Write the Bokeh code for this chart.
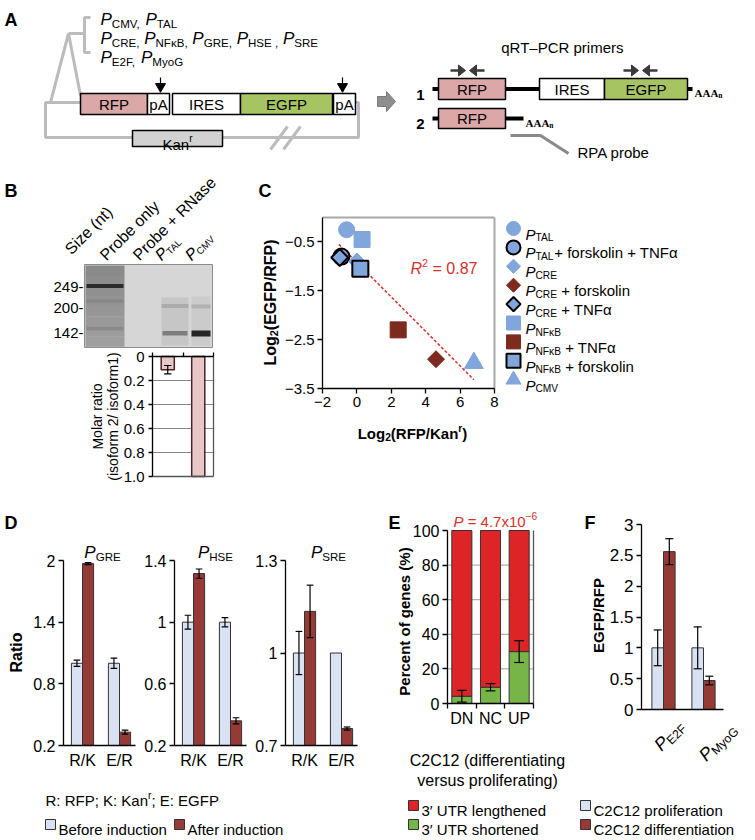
import json
import math
from collections import defaultdict

from bokeh.core.properties import value
from bokeh.embed import file_html
from bokeh.models import ColumnDataSource, CustomJSTickFormatter, FixedTicker, LinearAxis, Range1d
from bokeh.plotting import figure
from bokeh.resources import INLINE

# ============================================================ DATA
# A: reporter construct
a_promoter_lines = [["CMV,", "TAL"], ["CRE,", "NFκB,", "GRE,", "HSE ,", "SRE"], ["E2F,", "MyoG"]]
a_elements = ["RFP", "pA", "IRES", "EGFP", "pA"]
a_isoforms = ["1", "2"]

# B: RNase protection assay and molar ratio (isoform 2 / isoform 1)
b_lane_labels = ["Size (nt)", "Probe only", "Probe + RNase"]
b_lane_promoters = ["TAL", "CMV"]
b_size_labels = ["249-", "200-", "142-"]
b_ratio_promoters = ["TAL", "CMV"]
b_ratio = [0.11, 1.0]
b_ratio_err = [0.035, 0.0]
b_ratio_ticks = [0.0, 0.2, 0.4, 0.6, 0.8, 1.0]
b_ratio_ticklabels = ["0", "0.2", "0.4", "0.6", "0.8", "1.0"]

# C: log2(EGFP/RFP) versus log2(RFP/Kan)
c_promoter = ["TAL", "TAL", "CRE", "CRE", "CRE", "NFκB", "NFκB", "NFκB", "CMV"]
c_treatment = ["", "+ forskolin + TNFα", "", " + forskolin", " + TNFα", "", " + TNFα", " + forskolin", ""]
c_x = [-0.6, -0.9, 0.0, 4.6, -1.0, 0.3, 2.4, 0.2, 6.8]
c_y = [-0.25, -0.8, -0.9, -2.9, -0.82, -0.45, -2.3, -1.05, -2.98]
c_fit_x = [-1.05, 6.8]
c_fit_y = [-0.55, -3.32]
c_r2 = " = 0.87"
c_xticks = [-2, 0, 2, 4, 6, 8]
c_xticklabels = ["−2", "0", "2", "4", "6", "8"]
c_yticks = [-3.5, -2.5, -1.5, -0.5]
c_yticklabels = ["−3.5", "−2.5", "−1.5", "−0.5"]

# D: ratios before / after induction
d_groups = ["R/K", "E/R"]
d_promoters = ["GRE", "HSE", "SRE"]
d_gre_before = [1.0, 1.0]
d_gre_before_err = [0.03, 0.05]
d_gre_after = [1.97, 0.33]
d_gre_after_err = [0.01, 0.02]
d_hse_before = [1.0, 1.0]
d_hse_before_err = [0.045, 0.03]
d_hse_after = [1.315, 0.36]
d_hse_after_err = [0.03, 0.02]
d_sre_before = [1.0, 1.0]
d_sre_before_err = [0.07, 0.0]
d_sre_after = [1.135, 0.755]
d_sre_after_err = [0.085, 0.005]
d_gre_ticks = [0.2, 0.8, 1.4, 2.0]
d_gre_ticklabels = ["0.2", "0.8", "1.4", "2"]
d_hse_ticks = [0.2, 0.6, 1.0, 1.4]
d_hse_ticklabels = ["0.2", "0.6", "1", "1.4"]
d_sre_ticks = [0.7, 1.0, 1.3]
d_sre_ticklabels = ["0.7", "1", "1.3"]

# E: percent of genes with 3'UTR shortened / lengthened
e_cats = ["DN", "NC", "UP"]
e_shortened = [4.2, 9.4, 30.0]
e_shortened_err = [3.4, 2.1, 6.3]
e_lengthened = [95.8, 90.6, 70.0]
e_ticks = [0, 20, 40, 60, 80, 100]
e_ticklabels = ["0", "20", "40", "60", "80", "100"]
e_pvalue = ["4.7x10", "−6"]

# F: EGFP/RFP in C2C12
f_promoters = ["E2F", "MyoG"]
f_prolif = [1.0, 1.0]
f_prolif_err = [0.29, 0.34]
f_diff = [2.56, 0.47]
f_diff_err = [0.21, 0.07]
f_ticks = [0, 0.5, 1.0, 1.5, 2.0, 2.5, 3.0]
f_ticklabels = ["0", "0.5", "1", "1.5", "2", "2.5", "3"]

# ============================================================ STYLE
SANS = "Liberation Sans"
SERIF = "Liberation Serif"
GRAYLINE = "#bcbcbc"
PINK = "#dba7a7"
GREEN = "#a6c462"
RATIO_PINK = "#e8c7c7"
LBLUE = "#80a6dc"
DRED = "#7d2a1f"
BEFORE = "#d9e2f3"
AFTER = "#953a35"
E_RED = "#dd2527"
E_GREEN = "#76b548"
TXT_RED = "#d7312c"
EDGE = "#333333"

REG = {' ': 278, '!': 278, '(': 333, ')': 333, '+': 584, ',': 278, '-': 333, '.': 278, '/': 278,
       ':': 278, ';': 278, '=': 584, '%': 889, '–': 556, '−': 584, 'α': 578, 'κ': 500, '′': 190}
for ch in "0123456789":
    REG[ch] = 556
REG.update(dict(zip("ABCDEFGHIJKLMNOPQRSTUVWXYZ",
                    [667, 667, 722, 722, 667, 611, 778, 722, 278, 500, 667, 556, 833, 722, 778, 667, 778, 722,
                     667, 611, 722, 667, 944, 667, 667, 611])))
REG.update(dict(zip("abcdefghijklmnopqrstuvwxyz",
                    [556, 556, 500, 556, 556, 278, 556, 556, 222, 222, 500, 222, 833, 556, 556, 556, 556, 333,
                     500, 278, 556, 500, 722, 500, 500, 500])))
BOLD = {'b': 611, 'd': 611, 'f': 333, 'g': 611, 'h': 611, 'l': 278, 'n': 611, 'o': 611, 'p': 611, 'r': 389,
        't': 333, 'u': 611, 'i': 278, 'm': 889, 'A': 722, 'B': 722, 'K': 722, 'L': 611, 'c': 556, 's': 556}
SERIF_B = {'A': 722, 'n': 556}

PIECES = []


def text_width(s, size, bold=False, font=SANS):
    tot = 0
    for ch in s:
        w = None
        if font == SERIF:
            w = SERIF_B.get(ch)
        if w is None and bold:
            w = BOLD.get(ch)
        if w is None:
            w = REG.get(ch, 556)
        tot += w
    return tot * size / 1000.0


def rich(x, y, parts, size, color="black", angle=0.0, align="left", baseline="alphabetic",
         bold=False, font=SANS, sub_scale=0.68):
    items = []
    for t, kind in parts:
        s = size * sub_scale if kind in ("sub", "sup") else size
        items.append((t, kind, s, text_width(t, s, bold, font)))
    total = sum(it[3] for it in items)
    adv = {"left": 0.0, "center": -total / 2.0, "right": -total}[align]
    ca, sa = math.cos(angle), math.sin(angle)
    for t, kind, s, w in items:
        dn = 0.0
        if kind == "sub":
            dn = 0.24 * size
        elif kind == "sup":
            dn = -0.36 * size
        stripped = t.lstrip(" ")
        lead = text_width(t[:len(t) - len(stripped)], s, bold, font)
        a = adv + lead
        px = x + a * ca + dn * sa
        py = y - a * sa + dn * ca
        style = "italic" if kind == "i" else "normal"
        if bold:
            style = "bold" if style == "normal" else "bold italic"
        if stripped.strip():
            PIECES.append((px, py, stripped, font, round(s, 2), style, color, round(angle, 5), baseline))
        adv += w


# ============================================================ CANVAS
PX0, PX1, PY0, PY1 = 0, 754, 0, 839
p = figure(width=PX1 - PX0, height=PY1 - PY0, x_range=Range1d(PX0, PX1), y_range=Range1d(PY1, PY0),
           x_axis_type=None, y_axis_type=None, toolbar_location=None, output_backend="svg",
           min_border=0, outline_line_color=None, background_fill_color="white", border_fill_color="white")


def xr(v0, p0, v1, p1):
    k = (v1 - v0) / (p1 - p0)
    return Range1d(start=v0 + (PX0 - p0) * k, end=v0 + (PX1 - p0) * k)


def yr(v0, p0, v1, p1):
    k = (v1 - v0) / (p1 - p0)
    return Range1d(start=v0 + (PY1 - p0) * k, end=v0 + (PY0 - p0) * k)


FRAMES = {
    "B": ((0, 152, 2, 213), (0, 356, 1, 476)),
    "C": ((-2, 322, 8, 494), (0, 217, -3.5, 388)),
    "GRE": ((1, 82, 2, 119), (0.2, 745, 2.0, 560)),
    "HSE": ((1, 193, 2, 230), (0.2, 745, 1.4, 560)),
    "SRE": ((1, 304, 2, 341), (0.7, 745, 1.3, 560)),
    "E": ((0, 447, 3, 533), (0, 703, 100, 530)),
    "F": ((1, 663, 2, 703), (0, 709, 3, 524)),
}
p.extra_x_ranges = {k + "x": xr(*v[0]) for k, v in FRAMES.items()}
p.extra_y_ranges = {k + "y": yr(*v[1]) for k, v in FRAMES.items()}


def xval(name, px):
    v0, p0, v1, p1 = FRAMES[name][0]
    return v0 + (px - p0) * (v1 - v0) / (p1 - p0)


def jkey(v):
    v = float(v)
    return str(int(v)) if v.is_integer() else repr(v)


def fmt(ticks, labels):
    m = json.dumps({jkey(t): l for t, l in zip(ticks, labels)})
    return CustomJSTickFormatter(code="const m = %s; const k = String(tick); return (k in m) ? m[k] : '';" % m)


def axis(side, name, loc, bounds, ticks, labels, size="16px", tick_out=5, standoff=3,
         show_line=True, show_ticks=True):
    ax = LinearAxis(x_range_name=name + "x", y_range_name=name + "y", fixed_location=loc, bounds=bounds,
                    ticker=FixedTicker(ticks=ticks, minor_ticks=[]), formatter=fmt(ticks, labels),
                    major_tick_out=tick_out, major_tick_in=0, minor_tick_out=0, minor_tick_in=0,
                    major_label_standoff=standoff, major_label_text_font=SANS,
                    major_label_text_font_size=size, major_label_text_color="black",
                    axis_line_color="black" if show_line else None, axis_line_width=1.3,
                    major_tick_line_color="black" if show_ticks else None, major_tick_line_width=1.3,
                    minor_tick_line_color=None)
    p.add_layout(ax, side)
    return ax


def errbars(name, xs, ys, es, cap, width=1.2, color="black"):
    x0, y0, x1, y1 = [], [], [], []
    for x, y, e in zip(xs, ys, es):
        if e <= 0:
            continue
        x0 += [x, x - cap, x - cap]
        y0 += [y - e, y - e, y + e]
        x1 += [x, x + cap, x + cap]
        y1 += [y + e, y - e, y + e]
    p.segment(x0=x0, y0=y0, x1=x1, y1=y1, x_range_name=name + "x", y_range_name=name + "y",
              line_color=color, line_width=width)


# ============================================================ PANEL A (diagram)
rich(4, 19, [("A", "n")], 18, bold=True)
p.multi_line(xs=[[90, 84, 84, 90], [84, 68], [68, 50], [68, 80], [80, 45, 45, 132], [222, 358, 358, 355]],
             ys=[[17, 17, 52, 52], [33, 33], [33, 102], [33, 95], [102, 102, 137, 137], [137, 137, 102, 102]],
             line_color=GRAYLINE, line_width=3)
p.multi_line(xs=[[270, 287], [283, 300]], ys=[[149, 126], [149, 126]], line_color=GRAYLINE, line_width=3)
box_l = [80, 147, 172, 240, 333]
box_r = [147, 169, 240, 332, 355]
p.quad(left=box_l, right=box_r, top=[93] * 5, bottom=[114] * 5,
       fill_color=[PINK, "white", "white", GREEN, "white"], line_color="black", line_width=1.5)
for l, r, lab in zip(box_l, box_r, a_elements):
    rich((l + r) / 2, 104, [(lab, "n")], 15, align="center", baseline="middle")
p.quad(left=[132], right=[222], top=[130], bottom=[146], fill_color="#d2d2d2", line_color="black", line_width=1.5)
rich(177, 143.5, [("Kan", "n"), ("r", "sup")], 15, align="center")
p.segment(x0=[160, 342], y0=[77, 77], x1=[160, 342], y1=[83, 83], line_color="black", line_width=1.2)
p.scatter(x=[160, 342], y=[86, 86], marker="inverted_triangle", size=10, color="black")
for i, line in enumerate(a_promoter_lines):
    parts = []
    for j, name in enumerate(line):
        if j > 0:
            parts.append((" ", "n"))
        parts += [("P", "i"), (name, "sub")]
    rich(100, 19 + 19 * i, parts, 17)
p.patch(x=[377, 386, 386, 395, 386, 386, 377], y=[96, 96, 91, 101, 111, 106, 106],
        fill_color="#8e8e8e", line_color="#7a7a7a")
# transcripts
rich(562, 47, [("qRT–PCR primers", "n")], 15, align="center")
rich(420, 94, [(a_isoforms[0], "n")], 15, bold=True, align="center")
rich(420, 123, [(a_isoforms[1], "n")], 15, bold=True, align="center")
p.segment(x0=[432, 505, 687, 432, 505], y0=[88.5, 88.5, 88.5, 118, 118],
          x1=[438, 539, 692, 438, 523], y1=[88.5, 88.5, 88.5, 118, 118], line_color="black", line_width=4)
p.quad(left=[438, 539, 604, 438], right=[505, 604, 687, 505], top=[78, 78, 78, 108], bottom=[99, 99, 99, 128],
       fill_color=[PINK, "white", GREEN, PINK], line_color="black", line_width=1.5)
for (l, r, yc, lab) in [(438, 505, 88.5, "RFP"), (539, 604, 88.5, "IRES"), (604, 687, 88.5, "EGFP"),
                        (438, 505, 118, "RFP")]:
    rich((l + r) / 2, yc, [(lab, "n")], 15, align="center", baseline="middle")
rich(694, 92, [("AAA", "n"), ("n", "sub")], 11, bold=True, font=SERIF)
rich(525, 122, [("AAA", "n"), ("n", "sub")], 11, bold=True, font=SERIF)
shaft_x, shaft_y, head_x, head_y = [], [], [], []
for a0, a1 in [(450, 465), (484, 469), (623, 638), (657, 642)]:
    d = 1 if a1 > a0 else -1
    shaft_x.append([a0, a1 - 4 * d])
    shaft_y.append([70, 70])
    head_x.append([a1 - 7 * d, a1, a1 - 7 * d])
    head_y.append([64.5, 70, 75.5])
p.multi_line(xs=shaft_x, ys=shaft_y, line_color="#3a3a3a", line_width=2.6)
p.patches(xs=head_x, ys=head_y, fill_color="#3a3a3a", line_color="#3a3a3a", line_width=1)
p.line(x=[510, 540, 568], y=[135, 135, 153], line_color="#8a8a8a", line_width=3)
rich(577, 152, [("RPA probe", "n")], 15)

# ============================================================ PANEL B
rich(4, 190, [("B", "n")], 18, bold=True)
p.quad(left=[84], right=[212], top=[264], bottom=[347], fill_color="#d6d6d6", line_color="#8c8c8c", line_width=1)
n_sl = 8
for i in range(n_sl):
    t = 265 + i * 81 / n_sl
    c = int(0x8a + i * 3)
    p.quad(left=[85], right=[124], top=[t], bottom=[t + 81 / n_sl + 0.3],
           fill_color="#%02x%02x%02x" % (c, c, c), line_color=None)
p.quad(left=[86, 86, 86, 161, 161, 162, 191, 191, 191],
       right=[123, 123, 123, 188, 188, 187, 210, 210, 210],
       top=[283.5, 299, 326, 297, 303.5, 330.5, 296, 304, 330],
       bottom=[287.5, 302, 330, 345, 307.5, 335, 345, 308, 336],
       fill_color=["#2b2b2b", "#858585", "#8a8a8a", "#c6c6c6", "#acacac", "#7d7d7d", "#cbcbcb", "#b2b2b2",
                   "#262626"], line_color=None)
for lab, yc in zip(b_size_labels, [286, 307, 332]):
    rich(83, yc, [(lab, "n")], 15, align="right", baseline="middle")
for lab, (x0, y0) in zip(b_lane_labels, [(67, 251), (102, 257), (135, 257)]):
    rich(x0, y0, [(lab, "n")], 16, angle=math.pi / 4)
for prom, (x0, y0) in zip(b_lane_promoters, [(157, 257), (187, 257)]):
    rich(x0, y0, [("P", "i"), (prom, "sub")], 16, angle=math.pi / 4, sub_scale=0.6)
# molar ratio chart
bx = [0.5, 1.5]
p.segment(x0=[0, 0, 0, 0], y0=[0.2, 0.4, 0.6, 0.8], x1=[2, 2, 2, 2], y1=[0.2, 0.4, 0.6, 0.8],
          x_range_name="Bx", y_range_name="By", line_color="#8a8a8a", line_width=1)
p.vbar(x=bx, top=b_ratio, bottom=0, width=0.43, x_range_name="Bx", y_range_name="By",
       fill_color=RATIO_PINK, line_color="#4a2424", line_width=1.5)
errbars("B", bx, b_ratio, b_ratio_err, 0.12)
p.segment(x0=[0, 2], y0=[1, 0], x1=[2, 2], y1=[1, 1], x_range_name="Bx", y_range_name="By",
          line_color="#555555", line_width=1.3)
axis("left", "B", 0, (0, 1), b_ratio_ticks, b_ratio_ticklabels, size="15px", tick_out=4, standoff=4)
axis("above", "B", 0, (0, 2), [0, 1, 2], ["", "", ""], tick_out=4)
rich(97, 416, [("Molar ratio", "n")], 14, angle=math.pi / 2, align="center")
rich(113, 416, [("(isoform 2/ isoform1)", "n")], 14, angle=math.pi / 2, align="center")

# ============================================================ PANEL C
rich(258, 190, [("C", "n")], 18, bold=True)
p.segment(x0=[-2, 8], y0=[0, 0], x1=[8, 8], y1=[0, -3.5], x_range_name="Cx", y_range_name="Cy",
          line_color="#a8a8a8", line_width=2)
p.line(x=c_fit_x, y=c_fit_y, x_range_name="Cx", y_range_name="Cy", line_color=TXT_RED, line_width=1.5,
       line_dash="3 2")
c_marker = ["circle", "circle", "square", "square", "square", "square", "square", "square", "triangle"]
c_angle = [0, 0, math.pi / 4, math.pi / 4, math.pi / 4, 0, 0, 0, 0]
c_size = [16, 16, 12, 12, 12, 16, 16, 16, 19]
c_fill = [LBLUE, LBLUE, LBLUE, DRED, LBLUE, LBLUE, DRED, LBLUE, LBLUE]
c_edge = [None, "black", None, None, "black", None, None, "black", None]
for i in range(len(c_x)):
    p.scatter(x=[c_x[i]], y=[c_y[i]], marker=c_marker[i], angle=c_angle[i], size=c_size[i],
              fill_color=c_fill[i], line_color=c_edge[i] if c_edge[i] else c_fill[i],
              line_width=2 if c_edge[i] else 1, x_range_name="Cx", y_range_name="Cy")
axis("left", "C", -2, (-3.5, 0), c_yticks, c_yticklabels, size="15px")
axis("below", "C", -3.5, (-2, 8), c_xticks, c_xticklabels, size="15px")
rich(410, 268, [("R", "i"), ("2", "sup"), (c_r2, "n")], 16, color=TXT_RED)
rich(270, 302, [("Log", "n"), ("2", "sub"), ("(EGFP/RFP)", "n")], 16, bold=True, angle=math.pi / 2,
     align="center")
rich(412, 433, [("Log", "n"), ("2", "sub"), ("(RFP/Kan", "n"), ("r", "sup"), (")", "n")], 15, bold=True,
     align="center")
for i in range(len(c_x)):
    yy = 228 + 18.9 * i
    s = c_size[i] - 2 if c_marker[i] != "triangle" else 15
    p.scatter(x=[513], y=[yy], marker=c_marker[i], angle=c_angle[i], size=s,
              fill_color=c_fill[i], line_color=c_edge[i] if c_edge[i] else c_fill[i],
              line_width=2 if c_edge[i] else 1)
    parts = [("P", "i"), (c_promoter[i], "sub")]
    if c_treatment[i]:
        parts.append((c_treatment[i], "n"))
    rich(525, yy + 5.5, parts, 15)

# ============================================================ PANEL D
rich(4, 522, [("D", "n")], 18, bold=True)
d_sets = [
    ("GRE", d_gre_before, d_gre_before_err, d_gre_after, d_gre_after_err, d_gre_ticks, d_gre_ticklabels, 63, 102),
    ("HSE", d_hse_before, d_hse_before_err, d_hse_after, d_hse_after_err, d_hse_ticks, d_hse_ticklabels, 174, 215),
    ("SRE", d_sre_before, d_sre_before_err, d_sre_after, d_sre_after_err, d_sre_ticks, d_sre_ticklabels, 285, 328),
]
gx = [1, 2]
for name, bef, bef_e, aft, aft_e, ticks, tlabels, ax_px, title_px in d_sets:
    ymin, ymax = ticks[0], ticks[-1]
    xl = xval(name, ax_px)
    xrgt = xval(name, ax_px + 72)
    xb = [g - 0.15 for g in gx]
    xa = [g + 0.15 for g in gx]
    p.vbar(x=xb, top=bef, bottom=ymin, width=0.3, x_range_name=name + "x", y_range_name=name + "y",
           fill_color=BEFORE, line_color=EDGE, line_width=1)
    p.vbar(x=xa, top=aft, bottom=ymin, width=0.3, x_range_name=name + "x", y_range_name=name + "y",
           fill_color=AFTER, line_color=EDGE, line_width=1)
    errbars(name, xb, bef, bef_e, 0.09)
    errbars(name, xa, aft, aft_e, 0.09)
    axis("left", name, xl, (ymin, ymax), ticks, tlabels, size="16px")
    axis("below", name, ymin, (xl, xrgt), gx, d_groups, size="16px", tick_out=0, standoff=6)
    rich(title_px, 552, [("P", "i"), (name, "sub")], 17, align="center")
rich(16, 652, [("Ratio", "n")], 16, bold=True, angle=math.pi / 2, align="center")
rich(45, 800, [("R: RFP; K: Kan", "n"), ("r", "sup"), ("; E: EGFP", "n")], 15)
p.scatter(x=[50, 179], y=[824, 824], marker="square", size=10, fill_color=[BEFORE, AFTER], line_color=EDGE)
rich(58, 829, [("Before induction", "n")], 15)
rich(187, 829, [("After induction", "n")], 15)

# ============================================================ PANEL E
rich(388, 522, [("E", "n")], 18, bold=True)
rich(453, 521, [("P", "i"), (" = " + e_pvalue[0], "n"), (e_pvalue[1], "sup")], 15, color=TXT_RED)
ex = [0.5, 1.5, 2.5]
p.segment(x0=[0] * 4, y0=[20, 40, 60, 80], x1=[3] * 4, y1=[20, 40, 60, 80], x_range_name="Ex",
          y_range_name="Ey", line_color="#a0a0a0", line_width=1)
p.vbar(x=ex, top=e_shortened, bottom=0, width=0.7, x_range_name="Ex", y_range_name="Ey",
       fill_color=E_GREEN, line_color=EDGE, line_width=1)
p.vbar(x=ex, top=[s + l for s, l in zip(e_shortened, e_lengthened)], bottom=e_shortened, width=0.7,
       x_range_name="Ex", y_range_name="Ey", fill_color=E_RED, line_color=EDGE, line_width=1)
errbars("E", ex, e_shortened, e_shortened_err, 0.17)
p.segment(x0=[3], y0=[0], x1=[3], y1=[100], x_range_name="Ex", y_range_name="Ey", line_color="#555555",
          line_width=1.3)
axis("left", "E", 0, (0, 100), e_ticks, e_ticklabels, size="16px")
axis("below", "E", 0, (0, 3), [0, 1, 2, 3], ["", "", "", ""], tick_out=5)
axis("below", "E", 0, (0, 3), ex, e_cats, size="16px", tick_out=0, standoff=6, show_line=False,
     show_ticks=False)
rich(404, 621, [("Percent of genes (%)", "n")], 15, bold=True, angle=math.pi / 2, align="center")
rich(487, 760, [("C2C12 (differentiating", "n")], 16, align="center")
rich(487, 780, [("versus proliferating)", "n")], 16, align="center")
p.scatter(x=[413, 413], y=[805, 824], marker="square", size=10, fill_color=[E_RED, E_GREEN], line_color=EDGE)
rich(421, 810, [("3′ UTR lengthened", "n")], 15)
rich(421, 829, [("3′ UTR shortened", "n")], 15)

# ============================================================ PANEL F
rich(584, 522, [("F", "n")], 18, bold=True)
fx = [1, 2]
fb = [g - 0.145 for g in fx]
fa = [g + 0.145 for g in fx]
p.vbar(x=fb, top=f_prolif, bottom=0, width=0.29, x_range_name="Fx", y_range_name="Fy",
       fill_color=BEFORE, line_color=EDGE, line_width=1)
p.vbar(x=fa, top=f_diff, bottom=0, width=0.29, x_range_name="Fx", y_range_name="Fy",
       fill_color=AFTER, line_color=EDGE, line_width=1)
errbars("F", fb, f_prolif, f_prolif_err, 0.1)
errbars("F", fa, f_diff, f_diff_err, 0.1)
axis("left", "F", xval("F", 641), (0, 3), f_ticks, f_ticklabels, size="17px")
axis("below", "F", 0, (xval("F", 641), xval("F", 723)), [], [], tick_out=0)
for prom, (x0, y0) in zip(f_promoters, [(681, 723), (733, 726)]):
    rich(x0, y0, [("P", "i"), (prom, "sub")], 18, angle=math.pi / 4, align="right")
rich(598, 615, [("EGFP/RFP", "n")], 15, bold=True, angle=math.pi / 2, align="center")
p.scatter(x=[585, 585], y=[805, 824], marker="square", size=10, fill_color=[BEFORE, AFTER], line_color=EDGE)
rich(593, 810, [("C2C12 proliferation", "n")], 15)
rich(593, 829, [("C2C12 differentiation", "n")], 15)

# ============================================================ TEXT
groups = defaultdict(lambda: {"x": [], "y": [], "text": []})
for px, py, t, font, s, style, color, angle, baseline in PIECES:
    g = groups[(font, s, style, color, angle, baseline)]
    g["x"].append(px)
    g["y"].append(py)
    g["text"].append(t)
for (font, s, style, color, angle, baseline), d in groups.items():
    p.text(x="x", y="y", text="text", source=ColumnDataSource(d), text_font=value(font),
           text_font_size=f"{s}px", text_font_style=style, text_color=color, angle=angle,
           text_align="left", text_baseline=baseline)

open("out.html", "w").write(file_html(p, INLINE))
